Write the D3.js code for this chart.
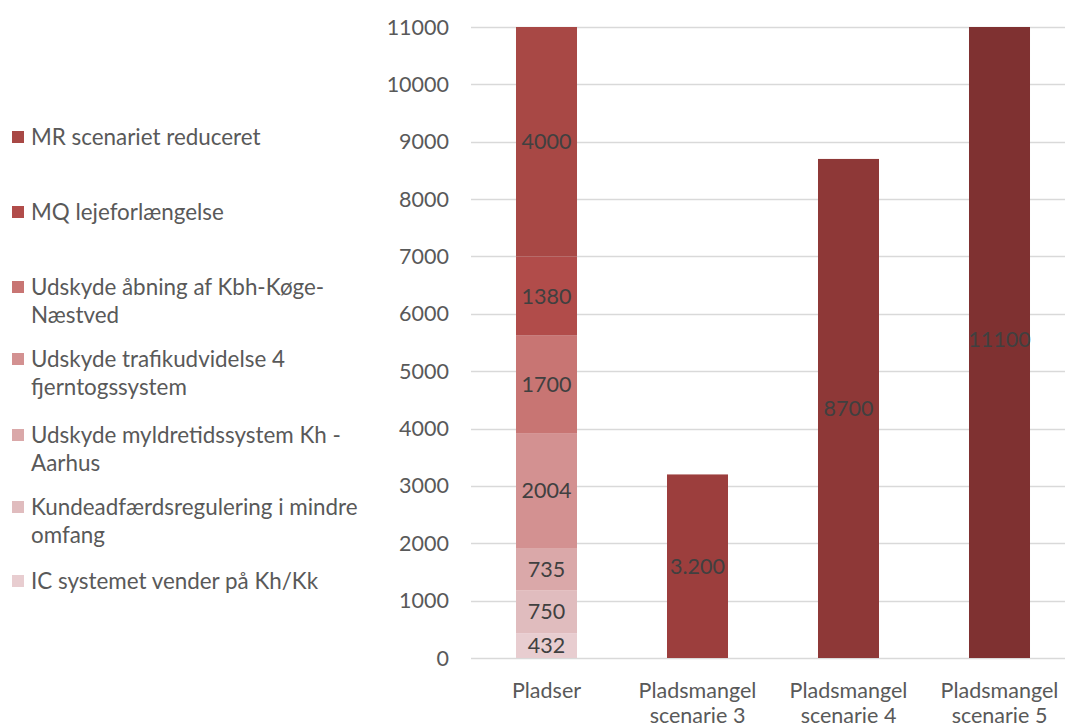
<!DOCTYPE html>
<html>
<head>
<meta charset="utf-8">
<script src="https://cdn.jsdelivr.net/npm/d3@7"></script>
<style>
  html, body { margin: 0; padding: 0; background: #fff; }
  svg { display: block; font-family: Lato, "Open Sans", sans-serif; }
</style>
</head>
<body>
<svg id="chart" width="1065" height="727"></svg>
<script>
// Categories on the x axis (each label split over lines)
const categories = ["Pladser", "Pladsmangel scenarie 3", "Pladsmangel scenarie 4", "Pladsmangel scenarie 5"];
const categoryLines = [["Pladser"], ["Pladsmangel", "scenarie 3"], ["Pladsmangel", "scenarie 4"], ["Pladsmangel", "scenarie 5"]];

// Stacked components of the "Pladser" column, bottom to top
const stackNames = [
  "IC systemet vender på Kh/Kk",
  "Kundeadfærdsregulering i mindre omfang",
  "Udskyde myldretidssystem Kh - Aarhus",
  "Udskyde trafikudvidelse 4 fjerntogssystem",
  "Udskyde åbning af Kbh-Køge-Næstved",
  "MQ lejeforlængelse",
  "MR scenariet reduceret"
];
const stackValues = [432, 750, 735, 2004, 1700, 1380, 4000];
const stackColors = ["#e8cdd0", "#e0bcbe", "#daa8a9", "#d39191", "#c87573", "#b14c4a", "#a84845"];

// Legend entries, top to bottom, with wrapped lines
const legendLines = [
  ["MR scenariet reduceret"],
  ["MQ lejeforlængelse"],
  ["Udskyde åbning af Kbh-Køge-", "Næstved"],
  ["Udskyde trafikudvidelse 4", "fjerntogssystem"],
  ["Udskyde myldretidssystem Kh -", "Aarhus"],
  ["Kundeadfærdsregulering i mindre", "omfang"],
  ["IC systemet vender på Kh/Kk"]
];
const legendColors = ["#a84845", "#b14c4a", "#c87573", "#d39191", "#daa8a9", "#e0bcbe", "#e8cdd0"];
const legendY = [137, 212, 287, 359, 435, 507, 581];

// Single-value scenario columns
const scenarioCats = ["Pladsmangel scenarie 3", "Pladsmangel scenarie 4", "Pladsmangel scenarie 5"];
const scenarioValues = [3200, 8700, 11100];
const scenarioLabels = ["3.200", "8700", "11100"];
const scenarioColors = ["#9c3e3d", "#8e3837", "#7f3131"];

// Y axis ticks
const yTicks = [0, 1000, 2000, 3000, 4000, 5000, 6000, 7000, 8000, 9000, 10000, 11000];

const FS = 21.5;
const LEGEND_FS = 22.4;
const svg = d3.select("#chart");
const plotLeft = 471, plotRight = 1075, plotTop = 27, plotBottom = 658;

const y = d3.scaleLinear().domain([0, 11000]).range([plotBottom, plotTop]);
const x = d3.scaleBand().domain(categories).range([plotLeft, plotRight])
  .paddingInner(0.596).paddingOuter(0.298);

svg.append("defs").append("clipPath").attr("id", "plotClip")
  .append("rect").attr("x", plotLeft).attr("y", plotTop)
  .attr("width", plotRight - plotLeft).attr("height", plotBottom - plotTop);

// Gridlines
svg.append("g").selectAll("line").data(yTicks).join("line")
  .attr("x1", plotLeft).attr("x2", plotRight)
  .attr("y1", d => Math.round(y(d)) + 0.5).attr("y2", d => Math.round(y(d)) + 0.5)
  .attr("stroke", "#d9d9d9").attr("stroke-width", 1.5);

// Y tick labels
svg.append("g").selectAll("text").data(yTicks).join("text")
  .attr("x", 449).attr("y", d => y(d)).attr("dy", "0.35em")
  .attr("text-anchor", "end").attr("fill", "#595959").attr("font-size", FS)
  .text(d => d);

// Stacked column
const stacked = [];
let acc = 0;
stackValues.forEach((v, i) => { stacked.push({ y0: acc, y1: acc + v, v, color: stackColors[i] }); acc += v; });

const bars = svg.append("g").attr("clip-path", "url(#plotClip)");
bars.selectAll("rect.stack").data(stacked).join("rect").attr("class", "stack")
  .attr("x", x("Pladser")).attr("width", x.bandwidth())
  .attr("y", d => y(d.y1)).attr("height", d => y(d.y0) - y(d.y1))
  .attr("fill", d => d.color);

// Scenario columns
const scen = scenarioCats.map((c, i) => ({ c, v: scenarioValues[i], label: scenarioLabels[i], color: scenarioColors[i] }));
bars.selectAll("rect.scen").data(scen).join("rect").attr("class", "scen")
  .attr("x", d => x(d.c)).attr("width", x.bandwidth())
  .attr("y", d => y(d.v)).attr("height", d => y(0) - y(d.v))
  .attr("fill", d => d.color);

// Value labels
const labels = svg.append("g").attr("fill", "#404040").attr("font-size", FS).attr("text-anchor", "middle");
labels.selectAll("text.s").data(stacked).join("text").attr("class", "s")
  .attr("x", x("Pladser") + x.bandwidth() / 2)
  .attr("y", d => y((d.y0 + d.y1) / 2)).attr("dy", "0.35em")
  .text(d => d.v);
labels.selectAll("text.c").data(scen).join("text").attr("class", "c")
  .attr("x", d => x(d.c) + x.bandwidth() / 2)
  .attr("y", d => y(d.v / 2)).attr("dy", "0.35em")
  .text(d => d.label);

// X axis category labels (second line runs to the bottom edge)
const xl = svg.append("g").attr("fill", "#595959").attr("font-size", FS).attr("text-anchor", "middle");
categories.forEach((c, i) => {
  const t = xl.append("text").attr("x", x(c) + x.bandwidth() / 2).attr("y", 690);
  categoryLines[i].forEach((line, j) => {
    t.append("tspan").attr("x", x(c) + x.bandwidth() / 2).attr("dy", j === 0 ? "0.35em" : 25).text(line);
  });
});

// Legend
const lg = svg.append("g");
legendLines.forEach((lines, i) => {
  lg.append("rect").attr("x", 12).attr("y", legendY[i] - 6).attr("width", 12).attr("height", 12)
    .attr("fill", legendColors[i]);
  lines.forEach((line, j) => {
    lg.append("text").attr("x", 31).attr("y", legendY[i] + j * 28.5).attr("dy", "0.35em")
      .attr("fill", "#595959").attr("font-size", LEGEND_FS).text(line);
  });
});
</script>
</body>
</html>
